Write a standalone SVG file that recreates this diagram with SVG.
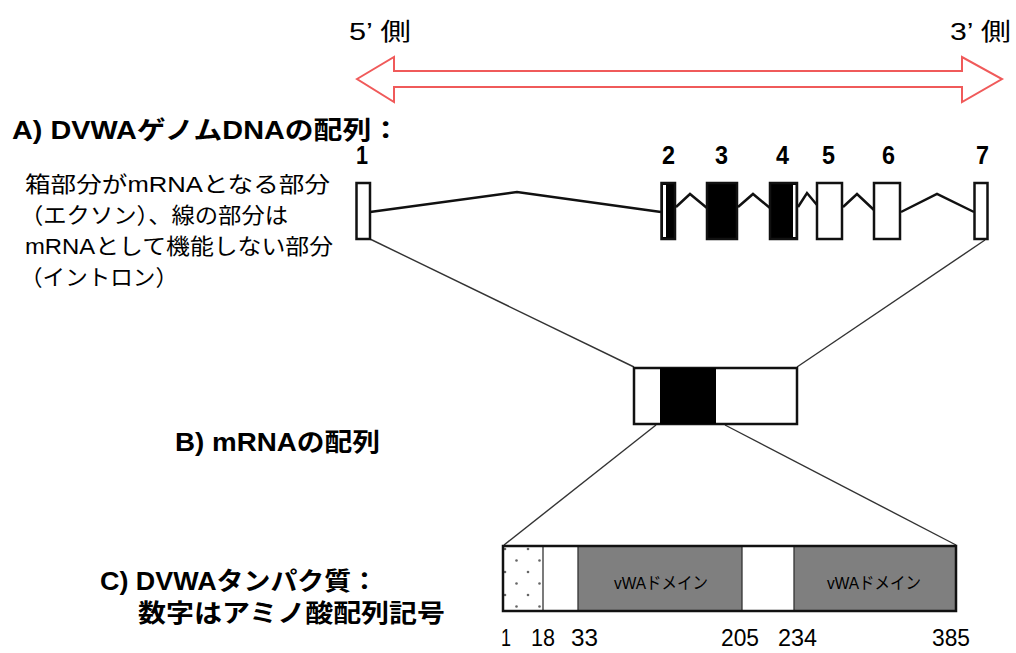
<svg xmlns="http://www.w3.org/2000/svg" width="1016" height="653" viewBox="0 0 1016 653">
<defs>
<style>
.t{font-family:"Liberation Sans","Noto Sans CJK JP",sans-serif;fill:#000}
.b{font-weight:bold}
.ex{stroke:#111;stroke-width:2.5}
.intr{fill:none;stroke:#111;stroke-width:2.5;stroke-linejoin:miter}
.zoom{fill:none;stroke:#333;stroke-width:1.4}
</style>
<pattern id="dots" x="502" y="545" width="23" height="23" patternUnits="userSpaceOnUse">
<circle cx="3" cy="4" r="1.3" fill="#666"/>
<circle cx="14.5" cy="15.5" r="1.3" fill="#666"/>
</pattern>
</defs>
<rect width="1016" height="653" fill="#fff"/>

<g id="direction">
<text class="t" x="349" y="40" font-size="24" textLength="62" lengthAdjust="spacingAndGlyphs">5’ 側</text>
<text class="t" x="950" y="40" font-size="24" textLength="61" lengthAdjust="spacingAndGlyphs">3’ 側</text>
<polygon points="357,79 394,57 394,71 962,71 962,57 1002,79 962,102 962,87 394,87 394,102" fill="#fff" stroke="#f05a5a" stroke-width="2"/>
</g>

<g id="labelA">
<text class="t b" x="12" y="139" font-size="25" textLength="388" lengthAdjust="spacingAndGlyphs">A) DVWAゲノムDNAの配列：</text>
</g>
<g id="desc">
<text class="t" x="25" y="192" font-size="22" textLength="305" lengthAdjust="spacingAndGlyphs">箱部分がmRNAとなる部分</text>
<text class="t" x="20" y="223" font-size="22" textLength="268" lengthAdjust="spacingAndGlyphs">（エクソン）、線の部分は</text>
<text class="t" x="25" y="254" font-size="22" textLength="308" lengthAdjust="spacingAndGlyphs">mRNAとして機能しない部分</text>
<text class="t" x="20" y="285" font-size="22" textLength="158" lengthAdjust="spacingAndGlyphs">（イントロン）</text>
</g>

<g id="exon-numbers" class="t b" font-size="25">
<text x="356" y="164" textLength="12" lengthAdjust="spacingAndGlyphs">1</text>
<text x="662" y="164" textLength="13" lengthAdjust="spacingAndGlyphs">2</text>
<text x="715" y="164" textLength="13" lengthAdjust="spacingAndGlyphs">3</text>
<text x="776" y="164" textLength="13" lengthAdjust="spacingAndGlyphs">4</text>
<text x="822" y="164" textLength="13" lengthAdjust="spacingAndGlyphs">5</text>
<text x="882" y="164" textLength="13" lengthAdjust="spacingAndGlyphs">6</text>
<text x="976" y="164" textLength="13" lengthAdjust="spacingAndGlyphs">7</text>
</g>

<g id="connectors">
<polyline class="intr" points="370,212 517,192 661,212"/>
<polyline class="intr" points="676,207 690,194 707,208"/>
<polyline class="intr" points="738,207 753,194 770,208"/>
<polyline class="intr" points="798,207 807,193 817,205"/>
<polyline class="intr" points="843,207 857,194 874,210"/>
<polyline class="intr" points="901,212 937,194 974,212"/>
<line class="zoom" x1="370" y1="239" x2="634" y2="367"/>
<line class="zoom" x1="985" y1="240" x2="797" y2="367"/>
<line class="zoom" x1="656" y1="425" x2="504" y2="545"/>
<line class="zoom" x1="725" y1="425" x2="956" y2="545"/>
</g>

<g id="exon1"><rect class="ex" x="356.5" y="183" width="13.5" height="56" fill="#fff"/></g>
<g id="exon2"><rect class="ex" x="661.5" y="183" width="13.5" height="56" fill="#000"/><rect x="663" y="185" width="3" height="52" fill="#fff"/></g>
<g id="exon3"><rect class="ex" x="707" y="183" width="30" height="56" fill="#000"/></g>
<g id="exon4"><rect class="ex" x="770" y="183" width="27" height="56" fill="#000"/><rect x="793" y="185" width="2.5" height="52" fill="#fff"/></g>
<g id="exon5"><rect class="ex" x="817" y="183" width="25" height="56" fill="#fff"/></g>
<g id="exon6"><rect class="ex" x="874" y="183" width="26" height="56" fill="#fff"/></g>
<g id="exon7"><rect class="ex" x="974.5" y="183" width="13" height="56" fill="#fff"/></g>

<g id="mrna">
<rect class="ex" x="634" y="368" width="163" height="56" fill="#fff"/>
<rect x="660" y="368" width="56" height="56" fill="#000"/>
</g>
<g id="labelB">
<text class="t b" x="175" y="451" font-size="25" textLength="205" lengthAdjust="spacingAndGlyphs">B) mRNAの配列</text>
</g>

<g id="protein">
<rect x="503" y="546" width="40" height="65" fill="url(#dots)"/>
<rect x="543" y="546" width="35" height="65" fill="#fff"/>
<rect x="578" y="546" width="164" height="65" fill="#7f7f7f"/>
<rect x="742" y="546" width="52" height="65" fill="#fff"/>
<rect x="794" y="546" width="162" height="65" fill="#7f7f7f"/>
<line x1="543" y1="546" x2="543" y2="611" stroke="#333" stroke-width="1.3"/>
<line x1="578" y1="546" x2="578" y2="611" stroke="#333" stroke-width="1.3"/>
<line x1="742" y1="546" x2="742" y2="611" stroke="#333" stroke-width="1.3"/>
<line x1="794" y1="546" x2="794" y2="611" stroke="#333" stroke-width="1.3"/>
<rect x="503" y="546" width="453" height="65" fill="none" stroke="#111" stroke-width="2.5"/>
<text class="t" x="661" y="589" font-size="17" text-anchor="middle" textLength="94" lengthAdjust="spacingAndGlyphs">vWAドメイン</text>
<text class="t" x="874" y="589" font-size="17" text-anchor="middle" textLength="94" lengthAdjust="spacingAndGlyphs">vWAドメイン</text>
</g>

<g id="numbers" class="t" font-size="24">
<text x="501" y="646" textLength="10" lengthAdjust="spacingAndGlyphs">1</text>
<text x="531" y="646" textLength="24" lengthAdjust="spacingAndGlyphs">18</text>
<text x="571" y="646" textLength="27" lengthAdjust="spacingAndGlyphs">33</text>
<text x="721" y="646" textLength="38" lengthAdjust="spacingAndGlyphs">205</text>
<text x="778" y="646" textLength="39" lengthAdjust="spacingAndGlyphs">234</text>
<text x="932" y="646" textLength="38" lengthAdjust="spacingAndGlyphs">385</text>
</g>

<g id="labelC">
<text class="t b" x="100" y="590" font-size="25" textLength="278" lengthAdjust="spacingAndGlyphs">C) DVWAタンパク質：</text>
<text class="t b" x="138" y="622" font-size="25" textLength="307" lengthAdjust="spacingAndGlyphs">数字はアミノ酸配列記号</text>
</g>
</svg>
